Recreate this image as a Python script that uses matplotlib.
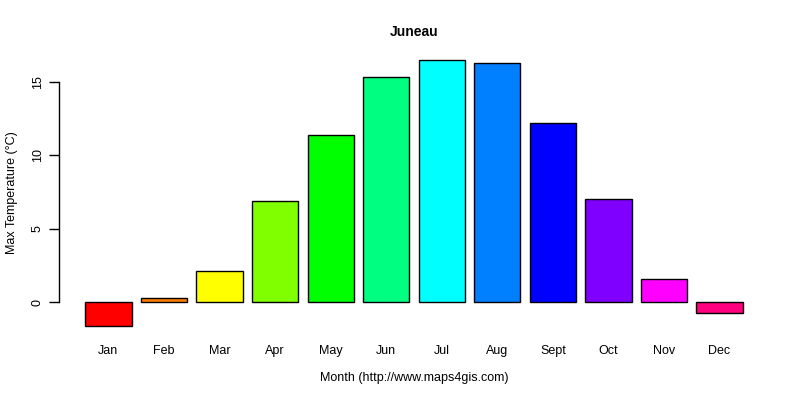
import matplotlib
matplotlib.use('Agg')
import matplotlib.pyplot as plt
import numpy as np

plt.rcParams['font.family'] = ['Liberation Sans', 'DejaVu Sans']

months = ['Jan', 'Feb', 'Mar', 'Apr', 'May', 'Jun', 'Jul', 'Aug', 'Sept', 'Oct', 'Nov', 'Dec']
max_temp = [-1.6, 0.3, 2.1, 6.9, 11.4, 15.3, 16.5, 16.3, 12.2, 7.0, 1.6, -0.75]
colors = ['#FF0000', '#FF8000', '#FFFF00', '#80FF00', '#00FF00', '#00FF80',
          '#00FFFF', '#0080FF', '#0000FF', '#8000FF', '#FF00FF', '#FF0080']

# R barplot layout: width 1, space 0.2
centers = 0.7 + 1.2 * np.arange(len(months))

fig = plt.figure(figsize=(8, 4), dpi=100)
ax = fig.add_axes([59/800, (400-336.5)/400, (769-59)/800, (336.5-49)/400])

ax.bar(centers, max_temp, width=1.0, color=colors, edgecolor='black', linewidth=1)

xlo, xhi = 0.2, centers[-1] + 0.5
xpad = 0.04 * (xhi - xlo)
ax.set_xlim(xlo - xpad, xhi + xpad)
ylo, yhi = min(max_temp), max(max_temp)
ypad = 0.04 * (yhi - ylo)
ax.set_ylim(ylo - ypad, yhi + ypad)

for s in ['top', 'right', 'bottom']:
    ax.spines[s].set_visible(False)
ax.spines['left'].set_bounds(0, 15)
ax.spines['left'].set_linewidth(1)

ax.set_yticks([0, 5, 10, 15])
ax.set_yticklabels(['0', '5', '10', '15'], rotation=90, va='center', fontsize=9)
ax.tick_params(axis='y', length=7, width=1, pad=4)

ax.set_xticks(centers)
ax.set_xticklabels(months, fontsize=9)
ax.tick_params(axis='x', length=0, pad=6)

ax.set_title('Juneau', fontsize=10, fontweight='bold', pad=9)
ax.set_xlabel('Month (http://www.maps4gis.com)', fontsize=9, labelpad=11)
ax.set_ylabel('Max Temperature (°C)', fontsize=9, labelpad=10)

fig.savefig('out.png', dpi=100)
